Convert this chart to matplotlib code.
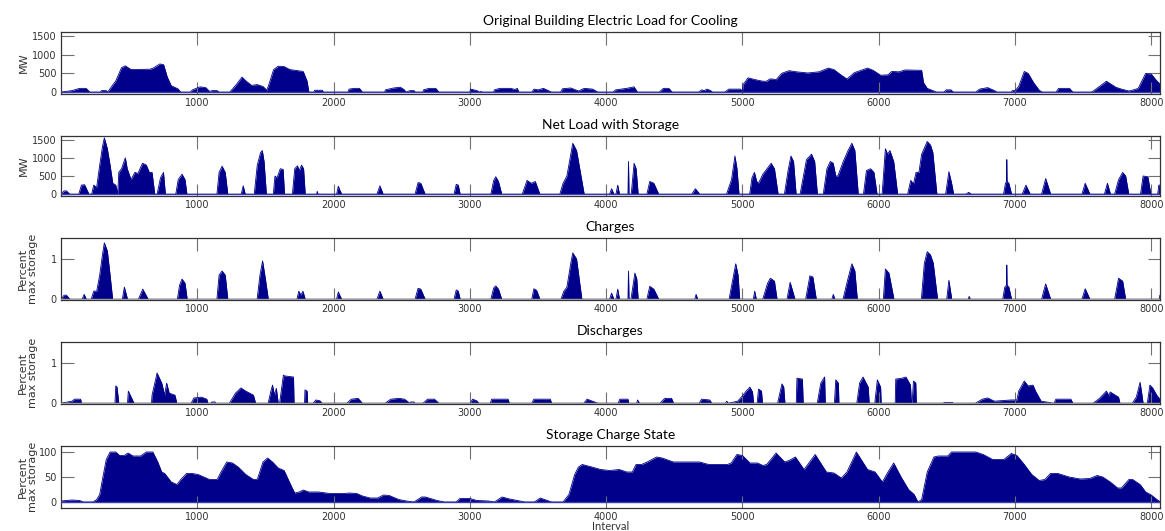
import matplotlib
matplotlib.use("Agg")
import matplotlib.pyplot as plt

# ---- data: (interval, value) breakpoints for each series ----
load_pts = [(0, 0), (40, 20), (80, 40), (136, 100), (184, 100), (212, 0), (290, 0), (296, 40), (332, 40), (340, 10),
            (346, 20), (402, 300), (444, 650), (472, 700), (514, 600), (654, 610), (682, 650), (725, 750), (753, 730),
            (780, 400), (809, 170), (857, 90), (879, 0), (950, 0), (964, 60), (1020, 140), (1062, 120), (1090, 20),
            (1110, 40), (1146, 40), (1160, 0), (1238, 0), (1286, 200), (1328, 400), (1356, 300), (1398, 180),
            (1440, 200), (1482, 150), (1510, 50), (1525, 200), (1560, 600), (1594, 690), (1637, 680), (1679, 600),
            (1777, 550), (1805, 300), (1819, 0), (1855, 0), (1861, 50), (1917, 50), (1925, 0), (2105, 0), (2114, 80),
            (2150, 100), (2190, 100), (2212, 0), (2375, 0), (2380, 60), (2440, 110), (2490, 130), (2520, 60),
            (2530, 0), (2562, 40), (2590, 40), (2600, 0), (2655, 0), (2660, 60), (2700, 100), (2750, 100), (2773, 0),
            (3000, 0), (3005, 80), (3053, 40), (3070, 0), (3081, 20), (3090, 0), (3175, 0), (3180, 60), (3220, 100),
            (3300, 100), (3330, 70), (3348, 100), (3360, 0), (3455, 0), (3470, 80), (3500, 60), (3540, 100),
            (3600, 0), (3665, 0), (3680, 90), (3740, 110), (3797, 30), (3839, 100), (3900, 80), (3940, 0), (4050, 0),
            (4070, 60), (4150, 100), (4205, 140), (4230, 0), (4390, 0), (4420, 100), (4460, 100), (4485, 0),
            (4680, 0), (4700, 60), (4720, 40), (4740, 80), (4767, 40), (4780, 0), (4870, 0), (4900, 80), (4986, 80),
            (5000, 20), (5005, 200), (5041, 380), (5096, 330), (5150, 290), (5178, 290), (5200, 350), (5219, 350),
            (5247, 330), (5288, 500), (5342, 570), (5397, 540), (5479, 510), (5562, 540), (5630, 640), (5671, 600),
            (5726, 450), (5767, 350), (5822, 520), (5918, 640), (5959, 580), (6014, 450), (6068, 460), (6096, 550),
            (6151, 540), (6192, 590), (6315, 580), (6329, 250), (6356, 100), (6425, 0), (6479, 0), (6495, 60),
            (6530, 60), (6548, 0), (6712, 0), (6740, 80), (6800, 120), (6849, 40), (6870, 0), (6973, 0), (6980, 40),
            (7000, 40), (7027, 150), (7068, 550), (7096, 500), (7137, 250), (7178, 50), (7200, 0), (7301, 0),
            (7320, 100), (7400, 100), (7425, 0), (7560, 0), (7575, 30), (7671, 290), (7740, 130), (7781, 80),
            (7836, 30), (7870, 60), (7904, 100), (7959, 500), (8000, 480), (8040, 300), (8068, 200)]

net_pts = [(0, 0), (23, 90), (40, 90), (65, 0),
           (130, 0), (150, 250), (173, 260), (190, 120), (206, 0),
           (225, 0), (240, 250), (256, 200), (262, 200), (284, 800), (304, 1300), (318, 1550), (340, 1250),
           (360, 800), (380, 300), (402, 250), (416, 0),
           (424, 600), (444, 700), (472, 1000), (486, 700), (514, 400), (542, 600), (564, 570), (598, 850),
           (626, 800), (648, 600), (668, 600), (688, 0),
           (705, 0), (730, 450), (752, 600), (766, 0),
           (842, 0), (860, 400), (888, 550), (910, 400), (924, 0),
           (1144, 0), (1160, 600), (1182, 770), (1205, 600), (1224, 0),
           (1322, 0), (1337, 230), (1352, 0),
           (1418, 0), (1440, 800), (1465, 1150), (1477, 1200), (1490, 900), (1507, 0),
           (1558, 0), (1570, 500), (1585, 450), (1609, 700), (1630, 680), (1640, 0),
           (1698, 0), (1715, 700), (1735, 780), (1749, 650), (1765, 800), (1780, 700), (1792, 0),
           (1876, 0), (1880, 80), (1886, 0),
           (2022, 0), (2035, 220), (2045, 120), (2060, 0),
           (2318, 0), (2340, 230), (2364, 0),
           (2598, 0), (2620, 320), (2640, 300), (2672, 0),
           (2884, 0), (2900, 270), (2915, 250), (2929, 0),
           (3154, 0), (3175, 380), (3190, 480), (3210, 350), (3234, 0),
           (3384, 0), (3420, 380), (3450, 300), (3480, 350), (3514, 0),
           (3660, 0), (3684, 300), (3712, 500), (3741, 1100), (3755, 1400), (3783, 1200), (3811, 600), (3839, 0),
           (4025, 0), (4040, 150), (4057, 0),
           (4072, 0), (4085, 250), (4098, 0),
           (4160, 0), (4164, 900), (4168, 0),
           (4184, 0), (4205, 850), (4220, 700), (4235, 0),
           (4299, 0), (4320, 350), (4350, 300), (4386, 0),
           (4628, 0), (4655, 150), (4687, 0),
           (4883, 0), (4920, 400), (4945, 1050), (4960, 700), (4975, 0),
           (5053, 0), (5070, 450), (5088, 600), (5105, 350), (5118, 300), (5150, 550), (5190, 750), (5211, 850),
           (5235, 700), (5262, 0),
           (5308, 0), (5335, 650), (5356, 1050), (5375, 900), (5394, 0),
           (5423, 0), (5470, 950), (5507, 1100), (5530, 900), (5550, 0),
           (5593, 0), (5620, 700), (5645, 900), (5666, 850), (5685, 500), (5700, 500), (5740, 900), (5775, 1200),
           (5803, 1400), (5825, 1200), (5850, 0),
           (5888, 0), (5910, 650), (5940, 700), (5965, 600), (5988, 0),
           (6025, 0), (6049, 1250), (6065, 1100), (6082, 1200), (6110, 900), (6139, 0),
           (6212, 0), (6235, 380), (6255, 280), (6274, 600), (6295, 600), (6315, 1100), (6356, 1450),
           (6380, 1350), (6397, 1150), (6427, 0),
           (6491, 0), (6515, 620), (6535, 300), (6550, 0),
           (6640, 0), (6660, 50), (6680, 0),
           (6916, 0), (6930, 300), (6938, 350), (6940, 950), (6942, 350), (6955, 300), (6975, 0),
           (7053, 0), (7080, 250), (7112, 0),
           (7195, 0), (7225, 430), (7262, 0),
           (7491, 0), (7515, 300), (7550, 0),
           (7656, 0), (7678, 300), (7701, 0),
           (7731, 0), (7760, 400), (7790, 600), (7812, 500), (7835, 0),
           (7921, 0), (7940, 500), (7975, 480), (7997, 0),
           (8047, 0), (8055, 250), (8068, 250)]

charge_pts = [(0, 0), (23, 0.1), (40, 0.1), (65, 0),
              (155, 0), (170, 0.12), (186, 0),
              (222, 0), (240, 0.2), (256, 0.2), (262, 0.2), (284, 0.6), (304, 1.1), (318, 1.4), (340, 1.2),
              (360, 0.6), (379, 0),
              (450, 0), (465, 0.3), (488, 0),
              (568, 0), (600, 0.25), (640, 0),
              (854, 0), (870, 0.35), (888, 0.5), (910, 0.4), (926, 0),
              (1144, 0), (1160, 0.6), (1182, 0.7), (1205, 0.6), (1224, 0),
              (1439, 0), (1460, 0.6), (1479, 0.95), (1500, 0.5), (1521, 0),
              (1731, 0), (1745, 0.2), (1760, 0.1), (1775, 0.2), (1792, 0),
              (2022, 0), (2035, 0.18), (2045, 0.1), (2060, 0),
              (2318, 0), (2340, 0.2), (2364, 0),
              (2598, 0), (2620, 0.27), (2640, 0.25), (2672, 0),
              (2884, 0), (2900, 0.23), (2915, 0.2), (2929, 0),
              (3154, 0), (3175, 0.28), (3190, 0.33), (3210, 0.25), (3234, 0),
              (3454, 0), (3470, 0.26), (3490, 0.22), (3514, 0),
              (3668, 0), (3690, 0.2), (3712, 0.3), (3741, 0.9), (3755, 1.15), (3783, 1.0), (3822, 0),
              (4025, 0), (4040, 0.15), (4057, 0),
              (4072, 0), (4085, 0.25), (4098, 0),
              (4160, 0), (4164, 0.7), (4168, 0),
              (4182, 0), (4211, 0.65), (4225, 0.5), (4235, 0),
              (4299, 0), (4320, 0.32), (4350, 0.25), (4386, 0),
              (4650, 0), (4660, 0.12), (4672, 0),
              (4902, 0), (4935, 0.6), (4951, 0.88), (4968, 0.6), (4980, 0),
              (5080, 0), (5090, 0.2), (5102, 0),
              (5149, 0), (5185, 0.4), (5205, 0.52), (5235, 0.45), (5254, 0),
              (5327, 0), (5350, 0.42), (5386, 0),
              (5464, 0), (5495, 0.58), (5517, 0.55), (5542, 0),
              (5656, 0), (5667, 0.12), (5678, 0),
              (5738, 0), (5770, 0.45), (5803, 0.88), (5825, 0.7), (5843, 0),
              (6034, 0), (6049, 0.75), (6075, 0.65), (6112, 0),
              (6313, 0), (6335, 0.9), (6356, 1.18), (6380, 1.1), (6400, 0.9), (6432, 0),
              (6499, 0), (6515, 0.47), (6536, 0),
              (6656, 0), (6664, 0.07), (6672, 0),
              (6910, 0), (6925, 0.3), (6938, 0.35), (6940, 0.85), (6942, 0.35), (6955, 0.3), (6975, 0),
              (7195, 0), (7225, 0.38), (7262, 0),
              (7491, 0), (7515, 0.26), (7550, 0),
              (7731, 0), (7750, 0.35), (7760, 0.52), (7790, 0.45), (7812, 0),
              (8058, 0), (8063, 0.1), (8068, 0.1)]

discharge_pts = [(0, 0), (80, 0.05), (100, 0.1), (144, 0.1), (150, 0),
                 (396, 0), (402, 0.43), (411, 0.4), (424, 0),
                 (488, 0), (494, 0.3), (536, 0),
                 (664, 0), (668, 0.2), (705, 0.75), (739, 0.5), (761, 0.2), (775, 0.5), (794, 0.25), (836, 0.2),
                 (850, 0),
                 (955, 0), (975, 0.13), (1030, 0.15), (1070, 0.1), (1078, 0),
                 (1102, 0), (1106, 0.03), (1130, 0.03), (1134, 0),
                 (1236, 0), (1280, 0.25), (1320, 0.38), (1356, 0.3), (1412, 0.2), (1428, 0),
                 (1520, 0), (1540, 0.3), (1552, 0.45), (1566, 0.2), (1580, 0.37), (1594, 0),
                 (1604, 0), (1632, 0.7), (1637, 0.68), (1706, 0.65), (1710, 0),
                 (1787, 0), (1790, 0.33), (1806, 0.3), (1810, 0),
                 (1850, 0), (1870, 0.08), (1900, 0.06), (1917, 0),
                 (2098, 0), (2130, 0.1), (2180, 0.12), (2212, 0),
                 (2378, 0), (2420, 0.1), (2480, 0.12), (2520, 0.1), (2560, 0),
                 (2565, 0.03), (2590, 0.03), (2595, 0),
                 (2656, 0), (2690, 0.1), (2740, 0.1), (2773, 0),
                 (3003, 0), (3020, 0.1), (3050, 0.06), (3067, 0),
                 (3150, 0), (3160, 0.1), (3280, 0.1), (3290, 0),
                 (3454, 0), (3470, 0.1), (3590, 0.1), (3600, 0),
                 (3836, 0), (3860, 0.1), (3940, 0),
                 (4088, 0), (4100, 0.1), (4160, 0.1), (4166, 0),
                 (4225, 0), (4230, 0.08), (4245, 0),
                 (4395, 0), (4430, 0.12), (4480, 0.12), (4495, 0),
                 (4683, 0), (4700, 0.1), (4760, 0.08), (4775, 0),
                 (4875, 0), (4885, 0.05), (4897, 0),
                 (4965, 0.05), (5005, 0.2), (5027, 0.3), (5055, 0.4), (5074, 0.28), (5082, 0),
                 (5108, 0), (5118, 0.35), (5140, 0.3), (5147, 0),
                 (5258, 0), (5290, 0.48), (5303, 0.4), (5312, 0),
                 (5395, 0), (5400, 0.62), (5440, 0.6), (5446, 0),
                 (5549, 0), (5575, 0.5), (5603, 0.65), (5608, 0),
                 (5675, 0), (5685, 0.58), (5704, 0.5), (5708, 0),
                 (5839, 0), (5860, 0.5), (5885, 0.65), (5923, 0.4), (5930, 0),
                 (5971, 0), (5990, 0.58), (6014, 0.4), (6018, 0),
                 (6121, 0), (6125, 0.6), (6170, 0.62), (6200, 0.65), (6233, 0.45), (6240, 0),
                 (6245, 0), (6255, 0.55), (6272, 0.5), (6276, 0),
                 (6475, 0), (6480, 0.02), (6540, 0.02), (6545, 0),
                 (6710, 0), (6760, 0.1), (6800, 0.13), (6849, 0.05),
                 (6970, 0.08), (7014, 0.08), (7027, 0.3), (7068, 0.55), (7096, 0.43), (7132, 0.45), (7151, 0.3),
                 (7192, 0.05), (7286, 0),
                 (7300, 0.1), (7410, 0.1), (7425, 0),
                 (7573, 0), (7620, 0.12), (7671, 0.3), (7690, 0.18), (7698, 0.28), (7760, 0.15), (7770, 0),
                 (7861, 0), (7890, 0.15), (7918, 0.52), (7932, 0.2), (7940, 0),
                 (7971, 0), (7990, 0.45), (8010, 0.38), (8040, 0.2), (8063, 0.1), (8068, 0.1)]

soc_pts = [(0, 2), (80, 4), (136, 3), (164, 0), (234, 0), (262, 5), (284, 15), (304, 45), (332, 85), (360, 100),
           (402, 100), (430, 93), (464, 93), (492, 98), (528, 92), (584, 92), (626, 100), (674, 100), (710, 80),
           (739, 60), (761, 57), (809, 40), (851, 35), (879, 45), (921, 57), (963, 57), (1006, 55), (1090, 45),
           (1146, 45), (1174, 60), (1216, 80), (1258, 78), (1300, 70), (1356, 55), (1412, 45), (1440, 45),
           (1482, 80), (1516, 88), (1552, 80), (1594, 68), (1637, 63), (1693, 30), (1715, 18), (1749, 20),
           (1777, 24), (1819, 20), (1889, 20), (1973, 17), (2085, 17), (2114, 18), (2170, 17), (2212, 12),
           (2268, 8), (2324, 8), (2366, 14), (2408, 13), (2478, 5), (2534, 2), (2590, 0), (2646, 10), (2674, 10),
           (2759, 3), (2815, 0), (2899, 0), (2927, 7), (2997, 7), (3053, 3), (3137, 2), (3180, 0), (3236, 10),
           (3292, 6), (3348, 3), (3404, 0), (3474, 0), (3516, 8), (3558, 4), (3600, 0), (3684, 0), (3727, 15),
           (3769, 55), (3797, 70), (3825, 75), (3895, 70), (3960, 65), (4027, 63), (4096, 65), (4151, 60),
           (4192, 60), (4219, 75), (4260, 75), (4301, 80), (4370, 90), (4411, 88), (4493, 80), (4685, 80),
           (4753, 75), (4890, 75), (4918, 78), (4959, 95), (5000, 93), (5055, 78), (5110, 78), (5151, 73),
           (5178, 75), (5247, 98), (5310, 80), (5342, 83), (5389, 90), (5452, 65), (5534, 95), (5616, 60),
           (5671, 58), (5726, 48), (5767, 60), (5836, 100), (5918, 65), (5973, 60), (6027, 40), (6068, 60),
           (6110, 78), (6164, 50), (6219, 25), (6260, 15), (6288, 0), (6315, 5), (6356, 60), (6405, 90),
           (6438, 92), (6507, 92), (6534, 100), (6712, 100), (6767, 95), (6836, 85), (6918, 85), (6973, 97),
           (7014, 93), (7068, 75), (7123, 55), (7178, 43), (7219, 45), (7260, 57), (7315, 57), (7397, 50),
           (7479, 46), (7548, 47), (7603, 53), (7644, 50), (7699, 40), (7753, 28), (7781, 28), (7836, 45),
           (7863, 45), (7918, 35), (7959, 20), (8000, 14), (8041, 5), (8068, 0)]

titles = ["Original Building Electric Load for Cooling", "Net Load with Storage", "Charges",
          "Discharges", "Storage Charge State"]
xticks = [1000, 2000, 3000, 4000, 5000, 6000, 7000, 8000]

# ---- figure ----
FILL = "#00008b"
fig = plt.figure(figsize=(11.65, 5.31), dpi=100)
W, H = 1165, 531
left, right = 61, 1160
tops = [32, 136, 238, 342, 446]
bots = [94, 196, 300, 404, 508]

series = [load_pts, net_pts, charge_pts, discharge_pts, soc_pts]
ylims = [(-50, 1600), (-50, 1600), (-0.02, 1.52), (-0.02, 1.52), (-12, 112)]
yticks = [[0, 500, 1000, 1500], [0, 500, 1000, 1500], [0, 1], [0, 1], [0, 50, 100]]
ylabels = ["MW", "MW", "Percent\nmax storage", "Percent\nmax storage", "Percent\nmax storage"]
label_x = [-0.029, -0.029, -0.021, -0.021, -0.021]
base_colors = ["#3a3ab0", "#3a3ab0", "#9a9a9a", "#9a9a9a", "#3a3ab0"]

for i, (pts, title) in enumerate(zip(series, titles)):
    xs = [p[0] for p in pts]
    ys = [p[1] for p in pts]
    ax = fig.add_axes([left / W, 1 - bots[i] / H, (right - left) / W, (bots[i] - tops[i]) / H])
    ax.fill_between(xs, 0, ys, color=FILL, linewidth=0)
    ax.plot(xs, ys, color=FILL, linewidth=0.6)
    ax.axhline(0, color=base_colors[i], linewidth=1.0, zorder=3)
    ax.set_xlim(0, 8064)
    ax.set_ylim(*ylims[i])
    ax.set_xticks(xticks)
    ax.set_yticks(yticks[i])
    ax.set_xticklabels([str(t) for t in xticks])
    ax.set_yticklabels([str(t) for t in yticks[i]])
    ax.tick_params(direction="in", length=9, width=0.8, top=True, right=True,
                   colors="#707070", labelcolor="#333333", labelsize=7, pad=3)
    for s in ax.spines.values():
        s.set_color("#333333")
        s.set_linewidth(0.9)
    ax.set_title(title, fontsize=10, family="Lato", pad=5)
    ax.set_ylabel(ylabels[i], fontsize=8, color="#333333", linespacing=1.05)
    ax.yaxis.set_label_coords(label_x[i], 0.5)
    if i == 4:
        ax.set_xlabel("Interval", fontsize=8, family="Lato", labelpad=-1, color="#333333")

fig.savefig("out.png", dpi=100)
